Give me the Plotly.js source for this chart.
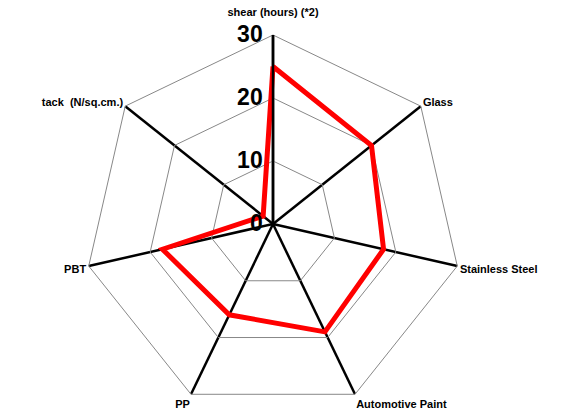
<!DOCTYPE html>
<html>
<head>
<meta charset="utf-8">
<script src="https://cdn.plot.ly/plotly-3.0.1.min.js"></script>
<style>
html, body { margin: 0; padding: 0; overflow: hidden; background: #fff; }
#chart { width: 575px; height: 430px; }
</style>
</head>
<body>
<div id="chart"></div>
<script>
const categories = ["shear (hours) (*2)", "Glass", "Stainless Steel", "Automotive Paint", "PP", "PBT", "tack  (N/sq.cm.)"];
const values = [25, 20, 18, 19, 16, 18, 2];
const radialTicks = [0, 10, 20, 30];

const theta = categories.concat([categories[0]]);
const r = values.concat([values[0]]);
// top label gets an empty second line so it sits higher above the "30" tick label
const angularText = categories.map((c, i) => i === 0 ? c + "<br> " : c);

const W = 575, H = 430;
const cx = 273, cy = 224, R = 189;

const data = [{
  type: "scatterpolar",
  mode: "lines",
  theta: theta,
  r: r,
  line: { color: "#ff0000", width: 5 },
  hoverinfo: "skip",
  showlegend: false
}];

const layout = {
  width: W,
  height: H,
  margin: { l: 0, r: 0, t: 0, b: 0, pad: 0 },
  paper_bgcolor: "#ffffff",
  plot_bgcolor: "#ffffff",
  font: { family: "Liberation Sans, Arial, sans-serif", color: "#000000" },
  showlegend: false,
  polar: {
    domain: {
      x: [(cx - R) / W, (cx + R) / W],
      y: [(H - cy - R) / H, (H - cy + R) / H]
    },
    bgcolor: "#ffffff",
    gridshape: "linear",
    angularaxis: {
      type: "category",
      categoryarray: categories,
      tickmode: "array",
      tickvals: categories,
      ticktext: angularText,
      direction: "clockwise",
      rotation: 90,
      showline: true,
      linecolor: "#888888",
      linewidth: 1,
      showgrid: true,
      gridcolor: "#000000",
      gridwidth: 2.5,
      ticks: "",
      tickfont: { family: "Liberation Sans, Arial, sans-serif", size: 11, color: "#000000", weight: "bold" }
    },
    radialaxis: {
      range: [0, 30],
      tickvals: radialTicks,
      ticktext: radialTicks.map(String),
      angle: 90,
      side: "counterclockwise",
      showline: true,
      linecolor: "#000000",
      linewidth: 2.5,
      showgrid: true,
      gridcolor: "#888888",
      gridwidth: 1,
      ticks: "outside",
      ticklen: 1,
      tickcolor: "rgba(0,0,0,0)",
      tickangle: 90,
      tickfont: { family: "Liberation Sans, Arial, sans-serif", size: 23, color: "#000000", weight: "bold" }
    }
  }
};

Plotly.newPlot("chart", data, layout, { displayModeBar: false, staticPlot: true });
</script>
</body>
</html>
